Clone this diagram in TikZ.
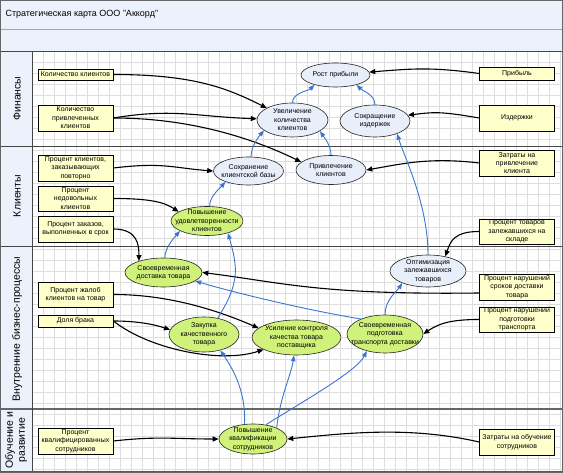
\documentclass[tikz,border=0pt]{standalone}
\usepackage{fontspec}
\setmainfont{Liberation Sans}
\usetikzlibrary{shapes.geometric,arrows.meta}
\definecolor{bandc}{RGB}{236,242,252}
\definecolor{gridc}{RGB}{222,222,222}
\definecolor{boxc}{RGB}{255,255,204}
\definecolor{greenc}{RGB}{208,242,122}
\definecolor{lbluec}{RGB}{232,239,250}
\definecolor{bluec}{RGB}{58,118,210}
\definecolor{framec}{RGB}{70,70,70}
\begin{document}
\begin{tikzpicture}[x=1pt,y=-1pt,
  every node/.style={font=\fontsize{7}{8.4}\selectfont, align=center},
  kpibox/.style={draw=black, line width=0.7pt, fill=boxc, minimum width=75pt, inner sep=0pt},
  goal/.style={ellipse, draw=black!85, line width=0.6pt, inner xsep=-12pt, inner ysep=-5pt},
  goalb/.style={goal, fill=lbluec},
  goalg/.style={goal, fill=greenc},
  lanelbl/.style={rotate=90, font=\fontsize{10.5}{12}\selectfont},
  gridline/.style={draw=gridc, line width=0.4pt},
  laneline/.style={draw=framec, line width=0.9pt},
  blk/.style={draw=black, line width=1.1pt, -{Triangle[length=6pt,width=5pt]}},
  blu/.style={draw=bluec, line width=0.9pt, -{Triangle[length=6pt,width=4.5pt]}}
]
\useasboundingbox (0,0) rectangle (563,473);
\fill[white] (0,0) rectangle (563,473);
% bands
\fill[bandc] (0,0) rectangle (562,51);
\fill[bandc] (0,51) rectangle (32,471);
% grid
\foreach \gx in {43,54,...,560} \draw[gridline] (\gx,51) -- (\gx,471);
\foreach \gy in {62,73,...,470} \draw[gridline] (32,\gy) -- (561,\gy);
% lines
\draw[draw=gray!70, line width=0.6pt] (0,29) -- (562,29);
\draw[laneline] (0,51) -- (562,51);
\draw[laneline] (0,146) -- (562,146);
\draw[laneline] (0,246) -- (562,246);
\draw[draw=gray!80!black, line width=1.6pt] (0,409) -- (562,409);
\draw[laneline] (32,51) -- (32,471);
\draw[draw=gray!70!black, line width=2pt] (0,471.5) -- (563,471.5);
\draw[draw=gray!80!black, line width=1pt] (0.5,0.5) rectangle (562.5,472);

% title and lane labels
\node[anchor=west, font=\fontsize{9}{11}\selectfont] (title) at (2,14) {Стратегическая карта ООО "Аккорд"};
\node[lanelbl] (lnF) at (17,98.5) {Финансы};
\node[lanelbl] (lnK) at (17,196) {Клиенты};
\node[lanelbl] (lnV) at (17,329) {Внутренние бизнес-процессы};
\node[lanelbl] (lnO) at (16,440) {Обучение и\\развитие};

% Finance lane
\node[kpibox, minimum height=11pt] (fKK) at (75.5,74.5) {Количество клиентов};
\node[kpibox, minimum height=26pt] (fKP) at (75.5,118) {Количество\\привлеченных\\клиентов};
\node[kpibox, minimum height=13pt] (fPr) at (517,73.5) {Прибыль};
\node[kpibox, minimum height=26pt] (fIz) at (517,118) {Издержки};
\node[goalb, minimum width=69pt, minimum height=24pt] (eRP) at (335.5,75) {Рост прибыли};
\node[goalb, minimum width=71pt, minimum height=34pt] (eUK) at (292.5,120) {Увеличение\\количества\\клиентов};
\node[goalb, minimum width=70pt, minimum height=32pt] (eSI) at (375,121) {Сокращение\\издержек};

% Clients lane
\node[kpibox, minimum height=26pt] (cPP) at (75.5,168) {Процент клиентов,\\заказывающих\\повторно};
\node[kpibox, minimum height=25pt] (cPN) at (75.5,198.5) {Процент\\недовольных\\клиентов};
\node[kpibox, minimum height=26pt] (cPZ) at (75.5,229) {Процент заказов,\\выполненных в срок};
\node[kpibox, minimum height=26pt] (cZP) at (517,163) {Затраты на\\привлечение\\клиента};
\node[kpibox, minimum height=25pt] (cPT) at (517,231.5) {Процент товаров\\залежавшихся на\\складе};
\node[goalb, minimum width=70pt, minimum height=28pt] (eSB) at (248.5,171) {Сохранение\\клиентской базы};
\node[goalb, minimum width=70pt, minimum height=29pt] (ePK) at (331,170) {Привлечение\\клиентов};
\node[goalg, minimum width=72pt, minimum height=29pt] (ePU) at (207,221) {Повышение\\удовлетворенности\\клиентов};

% Internal processes lane
\node[kpibox, minimum height=25pt] (bPJ) at (75.5,294.5) {Процент жалоб\\клиентов на товар};
\node[kpibox, minimum height=12pt] (bDB) at (75.5,321) {Доля брака};
\node[kpibox, minimum height=26pt] (bNS) at (517,287) {Процент нарушений\\сроков доставки\\товара};
\node[kpibox, minimum height=25pt] (bNP) at (517,319.5) {Процент нарушений\\подготовки\\транспорта};
\node[goalg, minimum width=77pt, minimum height=29pt] (eSD) at (163.5,272.5) {Своевременная\\доставка товара};
\node[goalb, minimum width=76pt, minimum height=32pt] (eOZ) at (428,271) {Оптимизация\\залежавшихся\\товаров};
\node[goalg, minimum width=70pt, minimum height=35pt] (eZK) at (204,334.5) {Закупка\\качественного\\товара};
\node[goalg, minimum width=89pt, minimum height=35pt] (eUKK) at (296.5,337.5) {Усиление контроля\\качества товара\\поставщика};
\node[goalg, minimum width=76pt, minimum height=38pt] (eSP) at (385,334) {Своевременная\\подготовка\\транспорта доставки};

% Learning lane
\node[kpibox, minimum height=26pt] (lPK) at (75.5,441) {Процент\\квалифицированных\\сотрудников};
\node[kpibox, minimum height=26pt] (lZO) at (517,442) {Затраты на обучение\\сотрудников};
\node[goalg, minimum width=68pt, minimum height=30pt] (ePKS) at (253,439) {Повышение\\квалификации\\сотрудников};

% black connectors
\draw[blk] (fKK.east) .. controls +(80,0) and +(-40,-20) .. (eUK.155);
\draw[blk] (fKP.east) .. controls +(60,-10) and +(-60,-2) .. (eUK.178);
\draw[blk] (fKP.east) .. controls +(80,0) and +(-45,-22) .. (ePK.165);
\draw[blk] (fPr.west) .. controls +(-50,-7) and +(40,-3) .. (eRP.5);
\draw[blk] (fIz.west) .. controls +(-40,-7) and +(25,-3) .. (eSI.10);
\draw[blk] (cPP.east) .. controls +(50,-6) and +(-40,-3) .. (eSB.west);
\draw[blk] (cPN.east) .. controls +(35,0) and +(-15,-10) .. (ePU.162);
\draw[blk] (cPZ.east) .. controls +(25,0) and +(0,-15) .. (eSD.155);
\draw[blk] (cZP.west) .. controls +(-50,-6) and +(35,-6) .. (ePK.east);
\draw[blk] (cPT.west) .. controls +(-25,0) and +(5,-15) .. (eOZ.40);
\draw[blk] (bNS.189) .. controls +(-160,2) and +(80,10) .. (eSD.east);
\draw[blk] (bNP.west) .. controls +(-30,0) and +(15,-10) .. (eSP.east);
\draw[blk] (bPJ.east) .. controls +(60,0) and +(-35,-15) .. (eUKK.166);
\draw[blk] (bDB.east) .. controls +(25,0) and +(-15,-5) .. (eZK.172);
\draw[blk] (bDB.east) .. controls +(37,29) and +(-42,14) .. (eUKK.200);
\draw[blk] (lPK.east) .. controls +(45,-5) and +(-45,0) .. (ePKS.west);
\draw[blk] (lZO.west) .. controls +(-70,-16) and +(60,-6) .. (ePKS.east);

% blue connectors
\draw[blu] (eUK.north) .. controls +(0,-10) and +(-6,6) .. (eRP.205);
\draw[blu] (eSI.north) .. controls +(0,-10) and +(6,6) .. (eRP.335);
\draw[blu] (eSB.80) .. controls +(0,-10) and +(-5,6) .. (eUK.200);
\draw[blu] (ePK.north) .. controls +(0,-10) and +(4,6) .. (eUK.338);
\draw[blu] (ePU.80) .. controls +(0,-10) and +(-5,6) .. (eSB.205);
\draw[blu] (eSD.85) .. controls +(0,-10) and +(-5,6) .. (ePU.200);
\draw[blu] (eZK.50) .. controls +(22,-35) and +(10,35) .. (ePU.330);
\draw[blu] (eSP.148) .. controls +(-50,-8) and +(40,12) .. (eSD.345);
\draw[blu] (eSP.north) .. controls +(0,-15) and +(-5,8) .. (eOZ.205);
\draw[blu] (eOZ.north) .. controls +(0,-50) and +(8,25) .. (eSI.330);
\draw[blu] (ePKS.120) .. controls +(2,-35) and +(10,15) .. (eZK.316);
\draw[blu] (ePKS.25) .. controls +(3,-30) and +(-3,20) .. (eUKK.262);
\draw[blu] (ePKS.48) .. controls +(40,-25) and +(-10,20) .. (eSP.223);
\end{tikzpicture}
\end{document}
